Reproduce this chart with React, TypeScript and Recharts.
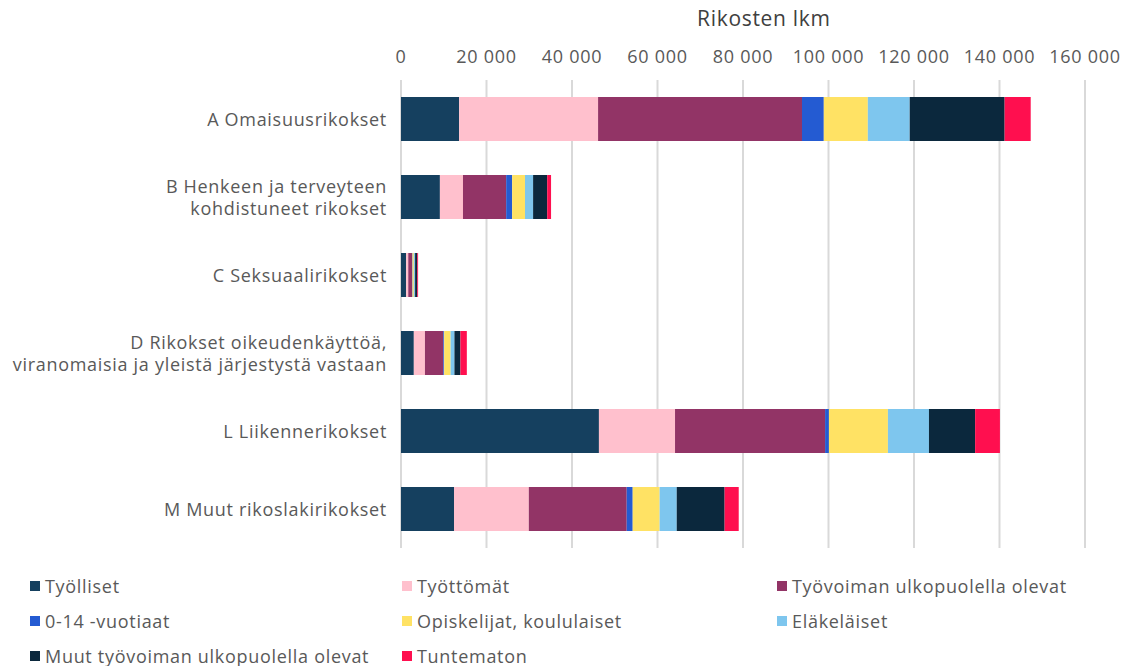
import React from "react";
import { BarChart, Bar, XAxis, YAxis, CartesianGrid } from "recharts";

// ---------- data ----------

const categories = [
  "A Omaisuusrikokset",
  "B Henkeen ja terveyteen\nkohdistuneet rikokset",
  "C Seksuaalirikokset",
  "D Rikokset oikeudenkäyttöä,\nviranomaisia ja yleistä järjestystä vastaan",
  "L Liikennerikokset",
  "M Muut rikoslakirikokset",
];

const tyolliset = [13600, 9100, 1200, 3000, 46300, 12400];
const tyottomat = [32500, 5400, 500, 2600, 17800, 17500];
const ulkopuolella = [47700, 10100, 900, 4300, 35100, 22900];
const vuotiaat = [5100, 1400, 100, 200, 900, 1400];
const opiskelijat = [10300, 3000, 300, 1500, 13800, 6300];
const elakelaiset = [9800, 1900, 300, 900, 9600, 4000];
const muut = [22200, 3300, 500, 1400, 10800, 11200];
const tuntematon = [6100, 900, 200, 1500, 5800, 3300];

const xTicks = [0, 20000, 40000, 60000, 80000, 100000, 120000, 140000, 160000];

const series = [
  { key: "tyolliset", name: "Työlliset", color: "#15405f", values: tyolliset },
  { key: "tyottomat", name: "Työttömät", color: "#ffc0cd", values: tyottomat },
  { key: "ulkopuolella", name: "Työvoiman ulkopuolella olevat", color: "#923466", values: ulkopuolella },
  { key: "vuotiaat", name: "0-14 -vuotiaat", color: "#245bd2", values: vuotiaat },
  { key: "opiskelijat", name: "Opiskelijat, koululaiset", color: "#ffe264", values: opiskelijat },
  { key: "elakelaiset", name: "Eläkeläiset", color: "#7ec6ee", values: elakelaiset },
  { key: "muut", name: "Muut työvoiman ulkopuolella olevat", color: "#0b283d", values: muut },
  { key: "tuntematon", name: "Tuntematon", color: "#ff0f4f", values: tuntematon },
];

const data = categories.map((c, i) => {
  const row: Record<string, string | number> = { category: c };
  series.forEach((s) => {
    row[s.key] = s.values[i];
  });
  return row;
});

const FONT = "'Open Sans', 'Noto Sans', sans-serif";
const TEXT = "#595959";
const LS = 0.7;
const FS = 18;

const fmt = (v: number) => String(v).replace(/\B(?=(\d{3})+(?!\d))/g, " ");

// ---------- ticks ----------

function CategoryTick(props: any) {
  const { x, y, payload } = props;
  const lines = String(payload.value).split("\n");
  const lh = 22;
  const start = y - ((lines.length - 1) * lh) / 2;
  return (
    <text
      x={x - 6}
      y={start}
      textAnchor="end"
      dominantBaseline="central"
      fill={TEXT}
      fontSize={FS}
      fontFamily={FONT}
      letterSpacing={LS}
    >
      {lines.map((l, i) => (
        <tspan key={i} x={x - 6} dy={i === 0 ? 0 : lh}>
          {l}
        </tspan>
      ))}
    </text>
  );
}

function LegendBox() {
  return (
    <div
      style={{
        position: "absolute",
        left: 30,
        top: 574,
        display: "grid",
        gridTemplateColumns: "372px 375px 340px",
        rowGap: 12,
        fontFamily: FONT,
        fontSize: FS,
        letterSpacing: LS,
        color: TEXT,
      }}
    >
      {series.map((s) => (
        <div key={s.key} style={{ display: "flex", alignItems: "center", height: 23, whiteSpace: "nowrap" }}>
          <span
            style={{
              width: 10,
              height: 10,
              background: s.color,
              marginRight: 5,
              display: "inline-block",
              flex: "none",
            }}
          />
          {s.name}
        </div>
      ))}
    </div>
  );
}

export default function App() {
  return (
    <div style={{ position: "absolute", left: 0, top: 0, width: 1128, height: 666, background: "#fff" }}>
      <div
        style={{
          position: "absolute",
          left: 697,
          top: 4,
          fontFamily: FONT,
          fontSize: 21,
          letterSpacing: LS,
          color: "#404040",
          zIndex: 2,
          whiteSpace: "nowrap",
        }}
      >
        Rikosten lkm
      </div>
      <BarChart
        width={1128}
        height={666}
        data={data}
        layout="vertical"
        margin={{ top: 50, right: 43, left: 0, bottom: 118 }}
      >
        <CartesianGrid horizontal={false} stroke="#d9d9d9" strokeWidth={2} />
        <XAxis
          type="number"
          orientation="top"
          height={30}
          domain={[0, 160000]}
          ticks={xTicks}
          tickFormatter={fmt}
          axisLine={false}
          tickLine={false}
          tickMargin={11}
          interval={0}
          tick={{ fill: TEXT, fontSize: FS, fontFamily: FONT, letterSpacing: LS }}
        />
        <YAxis
          type="category"
          dataKey="category"
          width={401}
          axisLine={false}
          tickLine={false}
          interval={0}
          tick={<CategoryTick />}
        />
        {series.map((s) => (
          <Bar
            key={s.key}
            dataKey={s.key}
            name={s.name}
            stackId="a"
            barSize={44}
            fill={s.color}
            isAnimationActive={false}
          />
        ))}
      </BarChart>
      <LegendBox />
    </div>
  );
}
